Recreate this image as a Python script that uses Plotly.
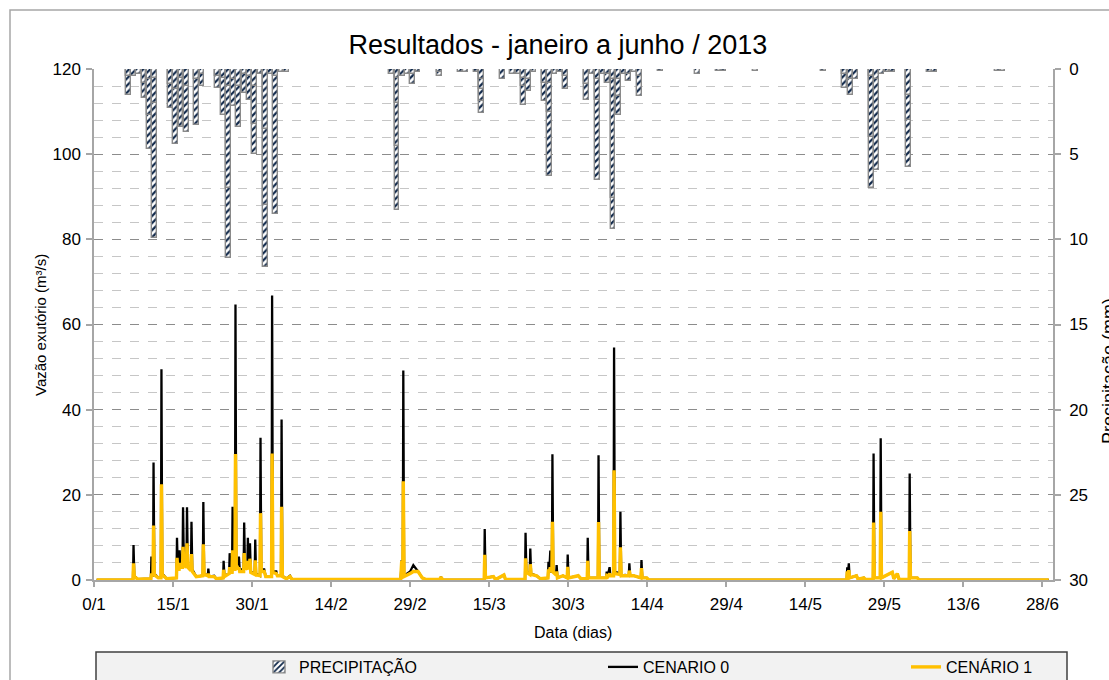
import plotly.graph_objects as go

# ---------------------------------------------------------------------------
# Precipitação (mm): dia (0 = 0/1) e lâminas sub-diárias; vários registros
# do mesmo dia ficam sobrepostos na mesma barra (maior primeiro).
# ---------------------------------------------------------------------------
chuva_dia = [
    6, 6, 7, 8, 9, 9, 10, 10, 10, 11, 11, 11,
    14, 14, 15, 15, 16, 16, 17, 17, 19, 19, 20, 20,
    23, 23, 24, 24, 25, 25, 25, 26, 26, 27, 27, 28, 28, 29, 29,
    30, 30, 30, 31, 32, 32, 32, 33, 34, 34, 35, 36,
    56, 57, 57, 57, 57, 58, 59, 60, 60, 61, 65, 65, 69, 70, 72,
    73, 73, 73, 73, 77, 79, 80, 81, 81, 81, 82, 82, 83,
    85, 85, 86, 86, 86, 87, 88, 89, 89,
    93, 93, 94, 95, 95, 95, 96, 97, 97, 98, 98, 98, 99, 99, 99,
    100, 101, 101, 102, 103, 103, 107, 114, 118, 119, 125, 138,
    142, 142, 143, 143, 144, 147, 147, 147, 148, 148, 149, 150, 151,
    154, 154, 154, 158, 159, 171, 172,
]
chuva_mm = [
    1.5, 0.4, 0.4, 0.3, 1.7, 0.8, 4.7, 2.7, 0.6, 9.9, 2.0, 0.5,
    2.3, 0.9, 4.4, 1.2, 3.4, 0.5, 3.7, 1.0, 3.3, 0.6, 1.0, 0.3,
    1.1, 0.4, 2.7, 0.5, 11.1, 7.0, 1.0, 2.2, 0.6, 3.4, 1.0, 1.4, 0.3, 1.8, 0.4,
    5.0, 3.2, 1.0, 0.3, 11.6, 8.0, 3.5, 0.3, 8.5, 0.4, 0.2, 0.2,
    0.3, 8.3, 4.5, 2.0, 0.5, 0.4, 0.3, 0.9, 0.3, 0.2, 0.4, 0.2, 0.15, 0.15, 0.2,
    2.6, 1.9, 1.2, 0.6, 0.6, 0.3, 0.3, 2.1, 1.0, 0.5, 1.3, 0.6, 0.2,
    1.9, 0.8, 6.3, 2.5, 0.8, 0.3, 0.2, 1.2, 0.4,
    1.8, 0.9, 0.3, 6.5, 1.8, 0.6, 0.3, 0.8, 0.3, 9.4, 7.6, 0.6, 2.7, 1.6, 0.6,
    0.3, 0.7, 0.3, 0.2, 1.6, 0.4, 0.1, 0.3, 0.1, 0.1, 0.1, 0.1,
    1.1, 0.3, 1.5, 0.6, 0.6, 7.0, 4.0, 0.4, 5.9, 0.6, 0.3, 0.2, 0.2,
    5.75, 3.0, 1.5, 0.15, 0.15, 0.1, 0.1,
]

# ---------------------------------------------------------------------------
# Vazão no exutório (m³/s) – tempo em dias, cenários 0 e 1
# ---------------------------------------------------------------------------
vazao_t = [
    0.5,
    7.4, 7.5, 7.65, 8.3,
    10.8, 10.9, 11.05, 11.2, 11.3, 11.45, 12.2, 12.7, 12.8, 12.95, 13.8,
    15.65, 15.75, 15.9, 16.15, 16.25, 16.4, 16.8, 16.9, 17.05,
    17.55, 17.65, 17.8, 18.4, 18.5, 18.65, 19.4,
    20.65, 20.75, 20.9, 21.6, 21.7, 21.85, 22.8, 23.2,
    24.5, 24.6, 24.75, 25.65, 25.75, 25.9, 26.2, 26.3, 26.45,
    26.75, 26.85, 27.0, 27.4, 27.5, 27.65, 28.4, 28.5, 28.65,
    29.1, 29.2, 29.35, 29.5, 29.6, 29.75, 30.5, 30.6, 30.75,
    31.5, 31.6, 31.75, 32.3, 32.6, 33.7, 33.8, 33.95, 34.6, 34.8,
    35.5, 35.6, 35.75, 36.5, 37.2, 37.6,
    58.2, 58.4, 58.5, 58.6, 58.7, 58.85, 60.0, 60.6, 61.5, 62.3, 63.0,
    65.6, 65.85, 66.2,
    74.05, 74.15, 74.3, 75.8, 76.2, 77.8, 78.1,
    81.8, 81.9, 82.05, 82.7, 82.8, 82.95, 84.0, 84.7,
    86.15, 86.25, 86.4, 86.6, 86.75, 86.9, 87.0, 87.15,
    87.7, 87.8, 87.95, 89.0, 89.8, 89.9, 90.05, 91.9, 92.4,
    93.6, 93.7, 93.85, 95.65, 95.75, 95.9,
    97.2, 97.3, 97.5, 97.85, 98.0, 98.6, 98.7, 98.85,
    99.8, 99.9, 100.05, 100.8, 101.5, 101.6, 101.75,
    102.4, 103.8, 103.9, 104.05, 104.9, 105.3,
    142.85, 142.95, 143.1, 143.25, 143.4, 144.7, 145.0, 146.1, 146.4,
    147.85, 147.95, 148.1, 149.2, 149.3, 149.45,
    151.5, 151.8, 152.45, 152.8, 154.7, 154.8, 154.95, 156.25, 156.6,
    181.2,
]
vazao_c0 = [
    0.0,
    0.0, 8.2, 1.0, 0.2,
    0.3, 5.5, 1.0, 1.0, 27.6, 1.5, 0.5, 0.5, 49.5, 1.5, 0.3,
    0.5, 9.9, 3.0, 3.0, 7.0, 3.5, 3.5, 17.1, 4.0,
    3.5, 17.1, 3.5, 2.5, 13.7, 2.5, 0.8,
    1.0, 18.3, 1.5, 1.0, 2.7, 0.8, 1.0, 0.3,
    0.5, 4.5, 1.0, 1.5, 6.3, 2.0, 2.0, 17.2, 3.0,
    3.0, 64.7, 4.0, 3.0, 5.5, 2.5, 2.5, 13.5, 3.5,
    3.0, 9.9, 3.0, 3.0, 8.6, 2.0, 1.5, 9.5, 1.5,
    1.0, 33.4, 2.5, 2.5, 0.8, 0.8, 66.8, 2.0, 2.0, 1.0,
    1.0, 37.7, 1.0, 0.3, 1.0, 0.1,
    0.1, 4.7, 1.0, 1.0, 49.2, 1.0, 2.0, 3.5, 2.0, 0.5, 0.1,
    0.1, 0.7, 0.0,
    0.0, 12.0, 0.5, 0.8, 0.1, 1.2, 0.1,
    0.1, 11.1, 2.0, 1.5, 7.4, 1.5, 1.0, 0.3,
    0.5, 4.3, 2.0, 6.9, 2.0, 2.0, 29.5, 2.0,
    1.5, 3.5, 0.5, 1.0, 0.5, 6.0, 0.5, 1.0, 0.3,
    0.3, 9.9, 0.5, 0.5, 29.3, 0.5,
    0.5, 2.0, 1.0, 3.0, 1.0, 1.0, 54.6, 2.0,
    1.5, 16.0, 1.0, 1.2, 1.0, 3.9, 1.0,
    1.0, 0.5, 4.7, 0.5, 0.5, 0.0,
    0.0, 3.0, 1.5, 3.9, 0.5, 1.0, 0.2, 0.5, 0.1,
    0.1, 29.7, 0.5, 0.5, 33.3, 0.5,
    1.8, 0.3, 1.5, 0.1, 0.1, 25.0, 0.5, 0.5, 0.0,
    0.0,
]
vazao_c1 = [
    0.0,
    0.0, 3.9, 0.8, 0.2,
    0.3, 1.5, 0.8, 0.8, 12.8, 1.2, 0.5, 0.5, 22.5, 1.2, 0.3,
    0.5, 5.2, 2.5, 2.5, 4.0, 3.0, 3.0, 7.8, 3.5,
    3.0, 8.6, 3.0, 2.2, 6.1, 2.0, 0.8,
    1.0, 8.4, 1.3, 1.0, 1.5, 0.8, 0.8, 0.3,
    0.5, 2.4, 0.8, 1.5, 3.0, 1.8, 1.8, 7.0, 2.5,
    2.5, 29.6, 3.5, 2.5, 3.0, 2.0, 2.0, 6.3, 3.0,
    2.5, 4.5, 2.5, 2.5, 5.0, 1.8, 1.3, 4.6, 1.2,
    1.0, 15.7, 2.0, 2.0, 0.8, 0.8, 29.7, 1.8, 1.5, 1.0,
    1.0, 17.2, 0.8, 0.3, 0.8, 0.1,
    0.1, 4.5, 1.0, 1.0, 23.2, 0.8, 1.5, 2.0, 2.0, 0.5, 0.1,
    0.1, 0.7, 0.0,
    0.0, 5.9, 0.5, 0.8, 0.1, 1.2, 0.1,
    0.1, 5.1, 1.8, 1.3, 3.7, 1.3, 1.0, 0.3,
    0.5, 2.5, 1.8, 3.0, 1.8, 1.8, 13.7, 1.8,
    1.2, 2.0, 0.5, 1.0, 0.5, 3.1, 0.5, 1.0, 0.3,
    0.3, 4.5, 0.5, 0.5, 13.6, 0.5,
    0.5, 1.0, 0.8, 1.5, 1.0, 1.0, 25.8, 1.5,
    1.3, 7.7, 1.0, 1.0, 1.0, 2.2, 1.0,
    1.0, 0.5, 2.8, 0.5, 0.5, 0.0,
    0.0, 2.0, 1.2, 2.3, 0.5, 1.0, 0.2, 0.5, 0.1,
    0.1, 13.5, 0.5, 0.5, 16.0, 0.5,
    1.8, 0.3, 1.5, 0.1, 0.1, 11.5, 0.5, 0.5, 0.0,
    0.0,
]

# Eixo de datas: rótulos a cada 15 dias
x_ticks = [0, 15, 30, 45, 60, 75, 90, 105, 120, 135, 150, 165, 180]
x_labels = ["0/1", "15/1", "30/1", "14/2", "29/2", "15/3", "30/3",
            "14/4", "29/4", "14/5", "29/5", "13/6", "28/6"]

FONT = "Arial, 'Liberation Sans', sans-serif"
AXIS_GREY = "#a6a6a6"

# geometria da área de plotagem (px)
W, H = 1109, 680
ML, MR, MT, MB = 94, 56, 69, 100
PW, PH = W - ML - MR, H - MT - MB


def px_x(px):
    return (px - ML) / PW


def px_y(py):
    return (H - MB - py) / PH


fig = go.Figure()

# barras de chuva penduradas no topo (eixo secundário invertido)
fig.add_trace(go.Bar(
    x=[d + 0.5 for d in chuva_dia],
    y=chuva_mm,
    yaxis="y2",
    width=0.92,
    name="PRECIPITAÇÃO",
    legend="legend",
    marker=dict(
        color="white",
        line=dict(color="#8a8a8a", width=1.4),
        pattern=dict(shape="/", fgcolor="#10284a", bgcolor="white",
                     fgopacity=1, size=5, solidity=0.45),
    ),
))

fig.add_trace(go.Scatter(
    x=vazao_t, y=vazao_c0, mode="lines", name="CENARIO 0",
    legend="legend2",
    line=dict(color="#000000", width=2.3),
))
fig.add_trace(go.Scatter(
    x=vazao_t, y=vazao_c1, mode="lines", name="CENÁRIO 1",
    legend="legend3",
    line=dict(color="#ffc000", width=3.4),
))

legend_common = dict(
    orientation="h", yanchor="middle", xanchor="left",
    bgcolor="rgba(0,0,0,0)", borderwidth=0,
    font=dict(family=FONT, size=16, color="#000"),
    itemwidth=30,
)

TICK_FONT = dict(family=FONT, size=17, color="#000")

fig.update_layout(
    width=W, height=H,
    margin=dict(l=ML, r=MR, t=MT, b=MB, autoexpand=False),
    paper_bgcolor="white", plot_bgcolor="white",
    font=dict(family=FONT, color="#000"),
    bargap=0, barmode="overlay",
    title=dict(text="Resultados - janeiro a junho / 2013",
               x=0.503, xref="container", xanchor="center",
               y=1 - 45 / H, yref="container", yanchor="middle",
               font=dict(family=FONT, size=27, color="#000")),
    xaxis=dict(range=[0, 182], tickvals=x_ticks, ticktext=x_labels,
               ticks="outside", ticklen=5, tickcolor=AXIS_GREY, tickwidth=1.5,
               showline=True, linecolor=AXIS_GREY, linewidth=1.5,
               showgrid=False, zeroline=False, ticklabelstandoff=3,
               tickfont=TICK_FONT),
    yaxis=dict(range=[0, 120], dtick=20,
               ticks="outside", ticklen=6, tickcolor=AXIS_GREY, tickwidth=1.5,
               showline=True, linecolor=AXIS_GREY, linewidth=1.5,
               showgrid=True, gridcolor="#8c8c8c", griddash="dash", gridwidth=1,
               minor=dict(dtick=4, showgrid=True, gridcolor="#c6c6c6",
                          griddash="dash", gridwidth=1, ticks=""),
               zeroline=False, ticklabelstandoff=2,
               tickfont=TICK_FONT),
    yaxis2=dict(overlaying="y", side="right", range=[30, 0], dtick=5,
                ticks="outside", ticklen=6, tickcolor=AXIS_GREY, tickwidth=1.5,
                showline=True, linecolor=AXIS_GREY, linewidth=1.5,
                showgrid=False, zeroline=False, ticklabelstandoff=5,
                tickfont=TICK_FONT),
    legend=dict(x=px_x(259), y=px_y(667), **legend_common),
    legend2=dict(x=px_x(603), y=px_y(667), **legend_common),
    legend3=dict(x=px_x(906), y=px_y(667), **legend_common),
    showlegend=True,
)

# moldura externa do gráfico e caixa da legenda
fig.add_shape(type="rect", xref="paper", yref="paper",
              x0=px_x(10), x1=px_x(1125), y0=px_y(700), y1=px_y(10),
              line=dict(color="#a6a6a6", width=1.5), fillcolor="rgba(0,0,0,0)",
              layer="below")
fig.add_shape(type="rect", xref="paper", yref="paper",
              x0=px_x(96), x1=px_x(1067), y0=px_y(700), y1=px_y(652),
              line=dict(color="#404040", width=1.5), fillcolor="#f2f2f2",
              layer="below")

# títulos dos eixos
fig.add_annotation(text="Vazão exutório (m³/s)", xref="paper", yref="paper",
                   x=px_x(40), y=px_y(325), textangle=-90, showarrow=False,
                   xanchor="center", yanchor="middle",
                   font=dict(family=FONT, size=15, color="#000"))
fig.add_annotation(text="Precipitação (mm)", xref="paper", yref="paper",
                   x=px_x(1109), y=px_y(371), textangle=-90, showarrow=False,
                   xanchor="center", yanchor="middle",
                   font=dict(family=FONT, size=18, color="#000"))
fig.add_annotation(text="Data (dias)", xref="paper", yref="paper",
                   x=px_x(573), y=px_y(632), showarrow=False,
                   xanchor="center", yanchor="middle",
                   font=dict(family=FONT, size=16, color="#000"))

fig.write_html("out.html")
